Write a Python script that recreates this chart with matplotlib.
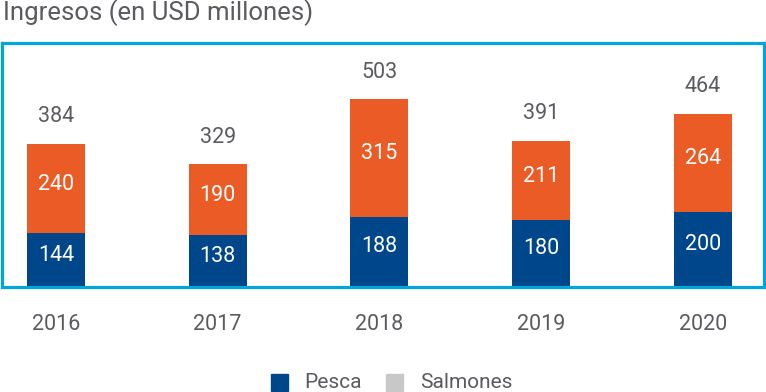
import numpy as np
import matplotlib.pyplot as plt
from matplotlib.patches import Rectangle

anios = ['2016', '2017', '2018', '2019', '2020']
pesca = [144, 138, 188, 180, 200]
salmones = [240, 190, 315, 211, 264]
totales = [384, 329, 503, 391, 464]

azul = '#00468A'
naranja = '#EB5B25'
gris_leyenda = '#C8C8C8'
gris_texto = '#5B5B5F'
cian = '#00A6DB'

fuente = ['Roboto', 'DejaVu Sans']

W, H = 766, 392
fig = plt.figure(figsize=(W / 100, H / 100), dpi=100)
ax = fig.add_axes([2 / W, 105 / H, 762 / W, 244 / H])

x = np.arange(len(anios))
ancho = 0.358
ax.bar(x, pesca, width=ancho, color=azul, zorder=2)
ax.bar(x, salmones, width=ancho, bottom=pesca, color=naranja, zorder=2)

for i in range(len(anios)):
    ax.annotate(str(pesca[i]), (x[i], pesca[i] / 2), xytext=(0, 5),
                textcoords='offset pixels', ha='center', va='center',
                color='white', fontsize=15.5, family=fuente)
    ax.annotate(str(salmones[i]), (x[i], pesca[i] + salmones[i] / 2), xytext=(0, 4),
                textcoords='offset pixels', ha='center', va='center',
                color='white', fontsize=15.5, family=fuente)
    ax.annotate(str(totales[i]), (x[i], totales[i]), xytext=(0, 27),
                textcoords='offset pixels', ha='center', va='center',
                color=gris_texto, fontsize=15.5, family=fuente)
    ax.annotate(anios[i], (x[i], 0), xytext=(0, -38),
                textcoords='offset pixels', ha='center', va='center',
                color=gris_texto, fontsize=15.5, family=fuente)

ax.set_xlim(-0.333, 4.377)
ax.set_ylim(0, 653)
ax.set_xticks([])
ax.set_yticks([])
for lado in ax.spines.values():
    lado.set_color(cian)
    lado.set_linewidth(2.3)
    lado.set_zorder(5)

fig.text(3 / W, 1 - 13 / H, 'Ingresos (en USD millones)', ha='left', va='center',
         color=gris_texto, fontsize=18.5, family=fuente)

# leyenda hecha a mano para fijar las posiciones
series_leyenda = [('Pesca', azul, 271, 304), ('Salmones', gris_leyenda, 386, 420)]
for nombre, color, xc, xt in series_leyenda:
    fig.patches.append(Rectangle((xc / W, 1 - 391 / H), 17 / W, 17 / H, color=color,
                                 transform=fig.transFigure, figure=fig))
    fig.text(xt / W, 1 - 382 / H, nombre, ha='left', va='center',
             color=gris_texto, fontsize=15, family=fuente)

fig.savefig('out.png', dpi=100)
